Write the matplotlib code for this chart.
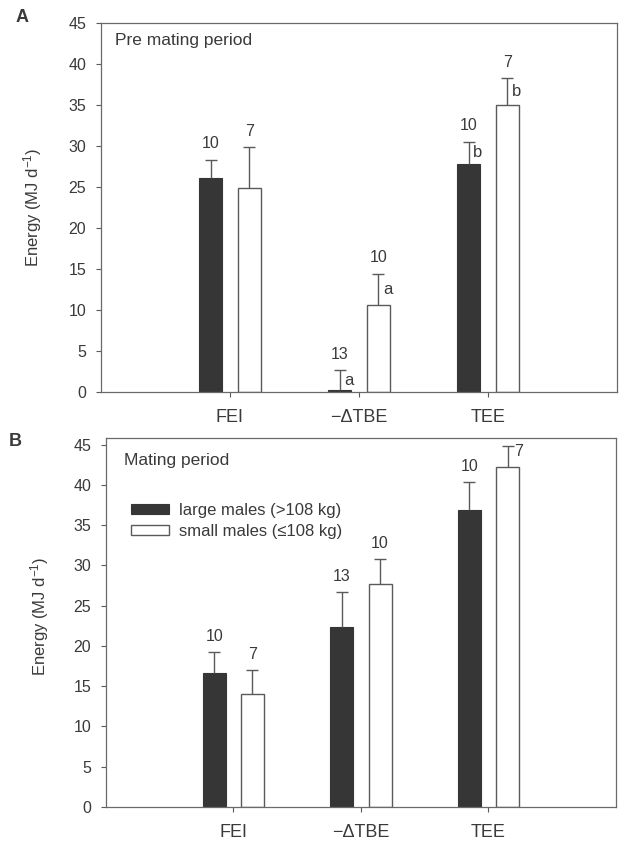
import matplotlib
matplotlib.use("Agg")
import matplotlib.pyplot as plt
import numpy as np

plt.rcParams['font.family'] = ['Liberation Sans', 'DejaVu Sans']
plt.rcParams['mathtext.default'] = 'regular'

categories = ["FEI", "\u2212\u0394TBE", "TEE"]
groups = ["large males (>108 kg)", "small males (\u2264108 kg)"]

# panel A: pre mating period
pre_large = [26.0, 0.2, 27.8]
pre_large_top = [28.3, 2.6, 30.5]
pre_small = [24.8, 10.6, 35.0]
pre_small_top = [29.8, 14.4, 38.2]
pre_large_n = ["10", "13", "10"]
pre_small_n = ["7", "10", "7"]
pre_large_sig = ["", "a", "b"]
pre_small_sig = ["", "a", "b"]

# panel B: mating period
mat_large = [16.6, 22.4, 36.9]
mat_large_top = [19.2, 26.7, 40.3]
mat_small = [14.0, 27.7, 42.2]
mat_small_top = [17.0, 30.8, 44.8]
mat_large_n = ["10", "13", "10"]
mat_small_n = ["7", "10", "7"]

dark = "#363636"
edge = "#5a5a5a"
txt = "#3a3a3a"


def draw_panel(ax, large, large_top, small, small_top, large_n, small_n,
               large_sig, small_sig, n_right, ytop):
    x = np.arange(1, len(categories) + 1)
    off = 0.15
    w = 0.18
    ax.bar(x - off, large, w, color=dark, edgecolor=dark, lw=0.8,
           label=groups[0], zorder=2)
    ax.bar(x + off, small, w, color="white", edgecolor=edge, lw=1.0,
           label=groups[1], zorder=2)

    for xs, vals, tops in ((x - off, large, large_top), (x + off, small, small_top)):
        up = np.array(tops) - np.array(vals)
        eb = ax.errorbar(xs, vals, yerr=[np.zeros_like(up), up], fmt="none",
                         ecolor=edge, elinewidth=1.0, capsize=4, capthick=1.0,
                         zorder=3)
        eb[1][0].set_visible(False)

    for i in range(len(categories)):
        for xs, vals, tops, ns, sigs, key in (
                (x[i] - off, large[i], large_top[i], large_n, large_sig, (0, i)),
                (x[i] + off, small[i], small_top[i], small_n, small_sig, (1, i))):
            mid = (vals + tops) / 2
            if key in n_right:
                ax.text(xs + 0.05, mid + 0.6, ns[i], ha="left", va="center",
                        fontsize=11.5, color=txt)
            else:
                ax.annotate(ns[i], (xs, tops), xytext=(0, 6),
                            textcoords="offset points", ha="center",
                            va="bottom", fontsize=11.5, color=txt)
            if sigs and sigs[i]:
                ax.text(xs + 0.035, mid, sigs[i], ha="left", va="center",
                        fontsize=12, color=txt)

    ax.set_xlim(0, 4)
    ax.set_ylim(0, ytop)
    ax.set_xticks(x)
    ax.set_xticklabels(categories, fontsize=13, color=txt)
    ax.set_yticks(np.arange(0, 46, 5))
    ax.tick_params(axis="y", direction="out", length=3.5, width=0.8,
                   colors=edge, labelcolor=txt, labelsize=11.5, pad=7)
    ax.tick_params(axis="x", direction="out", length=3.5, width=0.8,
                   colors=edge, labelcolor=txt, pad=9)
    for s in ax.spines.values():
        s.set_color("#6a6a6a")
        s.set_linewidth(0.9)
    ax.set_ylabel("Energy (MJ d$^{-1}$)", fontsize=12, color=txt)


fig = plt.figure(figsize=(6.26, 8.42), dpi=100)

ax1 = fig.add_axes([0.161, 0.535, 0.825, 0.438])
draw_panel(ax1, pre_large, pre_large_top, pre_small, pre_small_top,
           pre_large_n, pre_small_n, pre_large_sig, pre_small_sig, [], 45)
ax1.yaxis.set_label_coords(-0.109, 0.5)
ax1.text(0.027, 0.939, "Pre mating period", transform=ax1.transAxes,
         fontsize=12.5, color=txt, va="baseline")
fig.text(0.036, 0.979, "A", fontsize=13, fontweight="bold", color=txt,
         ha="center", va="center")

ax2 = fig.add_axes([0.169, 0.0416, 0.815, 0.438])
draw_panel(ax2, mat_large, mat_large_top, mat_small, mat_small_top,
           mat_large_n, mat_small_n, None, None, [(1, 2)], 45.8)
ax2.yaxis.set_label_coords(-0.108, 0.518)
ax2.text(0.035, 0.927, "Mating period", transform=ax2.transAxes,
         fontsize=12.5, color=txt, va="baseline")
fig.text(0.025, 0.476, "B", fontsize=13, fontweight="bold", color=txt,
         ha="center", va="center")
ax2.legend(loc="upper left", bbox_to_anchor=(0.049, 0.825), frameon=False,
           fontsize=12, handlelength=2.3, handleheight=0.55,
           handletextpad=0.6, labelspacing=0.35, borderpad=0,
           borderaxespad=0, labelcolor=txt)

fig.savefig("out.png", dpi=100, facecolor="white")
